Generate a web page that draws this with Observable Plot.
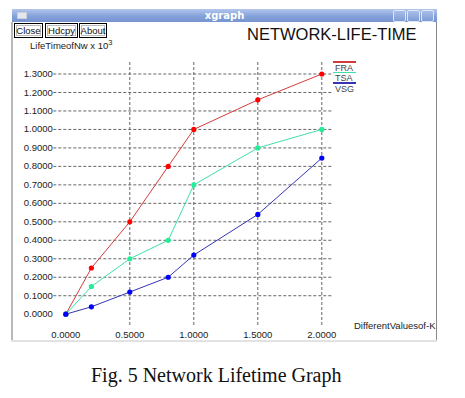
<!DOCTYPE html>
<html><head><meta charset="utf-8">
<script src="https://cdn.jsdelivr.net/npm/d3@7"></script>
<script src="https://cdn.jsdelivr.net/npm/@observablehq/plot@0.6"></script>
<style>
html,body{margin:0;padding:0;background:#fff;}
#wrap{position:relative;width:465px;height:398px;overflow:hidden;font-family:"Liberation Sans",Arial,sans-serif;}
#wrap svg{position:absolute;left:0;top:0;}
.abs{position:absolute;white-space:nowrap;}
.btn{position:absolute;top:23px;height:13px;border:1px solid #000;font-size:9.5px;line-height:13px;text-align:center;color:#111;background:#fff;box-shadow:inset 0 0 0 1px #fff, inset 0 0 0 2px #bbb;}
.wb{position:absolute;top:10px;width:11px;height:10px;border:1px solid #dfe7f7;border-radius:2px;background:linear-gradient(#a9bfe8,#7f9bd6);}
.leg{position:absolute;font-size:9px;line-height:9px;color:#444;}
.legl{position:absolute;height:1.5px;width:23px;left:333px;}
</style></head>
<body>
<div id="wrap">
  <div id="chart"></div>
  <div class="abs" style="left:12px;top:9px;width:425px;height:13px;background:linear-gradient(#b3c6ec,#819fd8 60%,#7894d0);"></div>
  <div class="abs" style="left:17px;top:12px;width:8px;height:5px;background:#e4e8ee;border:1px solid #c8cfd9;"></div>
  <div class="abs" style="left:12px;top:9px;width:425px;height:13px;text-align:center;color:#fff;font-family:'DejaVu Sans',sans-serif;font-weight:bold;font-size:10px;line-height:13px;">xgraph</div>
  <div class="wb" style="left:393px;"></div>
  <div class="wb" style="left:407px;"></div>
  <div class="wb" style="left:421px;"></div>
  <div class="abs" style="left:11px;top:22px;width:2px;height:320px;background:#b8b8b8;"></div>
  <div class="abs" style="left:436px;top:22px;width:1px;height:320px;background:#888;"></div>
  <div class="abs" style="left:11px;top:340px;width:426px;height:2px;background:#e2e2e2;"></div>
  <div class="btn" style="left:14px;width:27px;">Close</div>
  <div class="btn" style="left:45px;width:31px;">Hdcpy</div>
  <div class="btn" style="left:79px;width:26px;">About</div>
  <div class="abs" id="title" style="left:247px;top:25px;font-size:16.5px;color:#111;"></div>
  <div class="abs" id="ylab" style="left:30px;top:38px;font-size:9.5px;color:#222;"></div>
  <div class="abs" id="xlab" style="left:354px;top:320px;font-size:9.5px;color:#222;"></div>
  <div id="legend"></div>
  <div class="abs" id="caption" style="left:91px;top:363px;font-family:'Liberation Serif','Times New Roman',serif;font-size:20px;line-height:24px;color:#111;"></div>
</div>
<script>
// ---- data ----
const kValues = [0, 0.2, 0.5, 0.8, 1.0, 1.5, 2.0];
const fra = [0, 0.25, 0.5, 0.8, 1.0, 1.16, 1.3];
const tsa = [0, 0.15, 0.3, 0.4, 0.7, 0.9, 1.0];
const vsg = [0, 0.04, 0.12, 0.2, 0.32, 0.54, 0.845];
const seriesNames = ["FRA", "TSA", "VSG"];
const lineColors = ["#d23c3c", "#3fe0a8", "#3434b4"];
const dotColors = ["#ff0000", "#22ee99", "#0000ff"];
const xTicks = [0, 0.5, 1.0, 1.5, 2.0];
const yTicks = [0, 0.1, 0.2, 0.3, 0.4, 0.5, 0.6, 0.7, 0.8, 0.9, 1.0, 1.1, 1.2, 1.3];
const xGrid = [0.5, 1.0, 1.5, 2.0];
const yGrid = [0.1, 0.2, 0.3, 0.4, 0.5, 0.6, 0.7, 0.8, 0.9, 1.0, 1.1, 1.2, 1.3];
const chartTitle = "NETWORK-LIFE-TIME";
const yLabel = "LifeTimeofNw x 10";
const yLabelExp = "3";
const xLabel = "DifferentValuesof-K";
const caption = "Fig. 5 Network Lifetime Graph";

const allSeries = [fra, tsa, vsg];
const rows = [];
allSeries.forEach((vals, si) => vals.forEach((v, i) => rows.push({series: seriesNames[si], k: kValues[i], v})));

const fmt = d3.format(".4f");
const chart = Plot.plot({
  width: 465, height: 398,
  marginLeft: 65.3, marginRight: 143.7, marginTop: 73.5, marginBottom: 84.3,
  x: {domain: [0, 2]},
  y: {domain: [0, 1.3]},
  color: {domain: seriesNames, range: lineColors},
  style: {fontFamily: "Liberation Sans, Arial, sans-serif", fontSize: "9.5px", background: "transparent", color: "#222"},
  marks: [
    Plot.ruleY(yGrid, {stroke: "#666", strokeWidth: 1, strokeDasharray: "3,2", insetLeft: -12, insetRight: -12}),
    Plot.ruleX(xGrid, {stroke: "#666", strokeWidth: 1, strokeDasharray: "3,2", insetTop: -11.5, insetBottom: -11.5}),
    Plot.axisY(yTicks, {tickSize: 0, tickPadding: 13, tickFormat: fmt, label: null}),
    Plot.axisX(xTicks, {tickSize: 0, tickPadding: 17, tickFormat: fmt, label: null}),
    Plot.line(rows, {x: "k", y: "v", z: "series", stroke: "series", strokeWidth: 1}),
    Plot.dot(rows, {x: "k", y: "v", fill: d => dotColors[seriesNames.indexOf(d.series)], r: 2.6, stroke: "none"})
  ]
});
document.getElementById("chart").appendChild(chart);

document.getElementById("title").textContent = chartTitle;
document.getElementById("ylab").innerHTML = yLabel + "<sup style='font-size:7.5px;vertical-align:4px'>" + yLabelExp + "</sup>";
document.getElementById("xlab").textContent = xLabel;
document.getElementById("caption").textContent = caption;

const leg = document.getElementById("legend");
seriesNames.forEach((name, i) => {
  const l = document.createElement("div");
  l.className = "legl";
  l.style.top = (61 + i * 10.5) + "px";
  l.style.background = lineColors[i];
  leg.appendChild(l);
  const t = document.createElement("div");
  t.className = "leg";
  t.style.left = "335px";
  t.style.top = (63.5 + i * 10.5) + "px";
  t.textContent = name;
  leg.appendChild(t);
});
</script>
</body></html>
